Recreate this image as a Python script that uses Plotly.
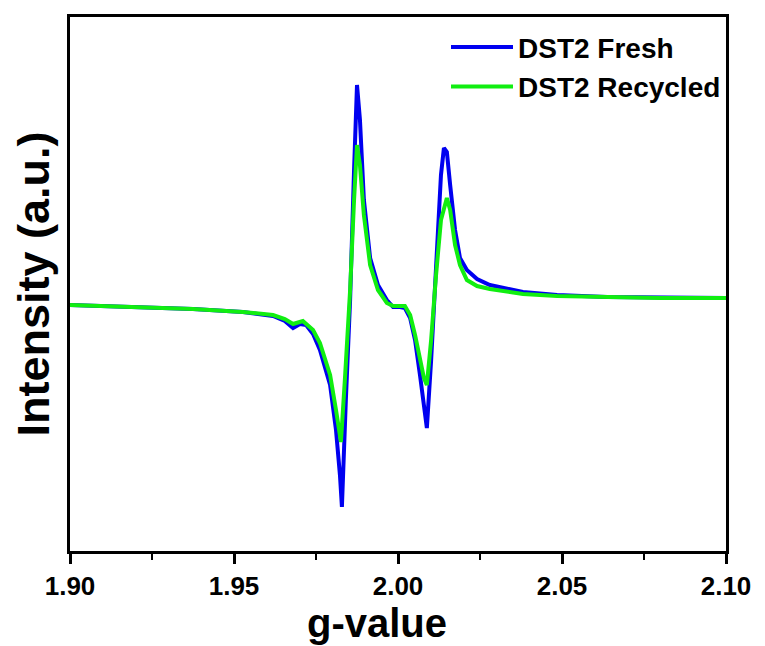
import plotly.graph_objects as go

# g-values and intensities (a.u.)
g_fresh = [1.9000, 1.9174, 1.9375, 1.9527, 1.9619, 1.9655, 1.9680, 1.9701, 1.9720, 1.9741,
           1.9762, 1.9793, 1.9811, 1.9823, 1.9829, 1.9841, 1.9854, 1.9866, 1.9875, 1.9884,
           1.9896, 1.9915, 1.9939, 1.9966, 1.9985, 2.0006, 2.0021, 2.0037, 2.0052, 2.0067,
           2.0079, 2.0088, 2.0101, 2.0116, 2.0131, 2.0140, 2.0149, 2.0159, 2.0174, 2.0189,
           2.0210, 2.0241, 2.0280, 2.0381, 2.0485, 2.0637, 2.0799, 2.1000]
i_fresh = [0, -2, -4, -7, -11, -16, -23, -19, -20, -29,
           -45, -80, -125, -170, -202, -95, 5, 135, 220, 185,
           105, 47, 20, 5, -2, -2, -3, -13, -35, -70,
           -105, -123, -55, 45, 130, 157, 153, 120, 75, 47,
           35, 26, 20, 13, 10, 8, 8, 7]

g_recycled = [1.9000, 1.9174, 1.9375, 1.9527, 1.9619, 1.9655, 1.9680, 1.9710, 1.9741, 1.9762,
              1.9793, 1.9811, 1.9826, 1.9838, 1.9854, 1.9866, 1.9875, 1.9884, 1.9896, 1.9915,
              1.9939, 1.9966, 1.9985, 2.0021, 2.0037, 2.0052, 2.0067, 2.0079, 2.0088, 2.0101,
              2.0116, 2.0131, 2.0149, 2.0159, 2.0174, 2.0189, 2.0210, 2.0241, 2.0280, 2.0381,
              2.0485, 2.0637, 2.0799, 2.1000]
i_recycled = [0, -2, -4, -7, -10, -14, -19, -16, -25, -38,
              -70, -105, -137, -75, 15, 105, 160, 140, 90, 40,
              15, 2, -1, -1, -10, -30, -55, -73, -80, -35,
              30, 85, 107, 95, 60, 40, 25, 19, 16, 11,
              9, 8, 7, 7]

x_ticks = [1.90, 1.95, 2.00, 2.05, 2.10]
x_tick_labels = ["1.90", "1.95", "2.00", "2.05", "2.10"]
x_title = "g-value"
y_title = "Intensity (a.u.)"

font_family = "Liberation Sans, Arial, sans-serif"

fig = go.Figure()
fig.add_trace(go.Scatter(x=g_fresh, y=i_fresh, mode="lines", name="DST2 Fresh",
                         line=dict(color="#0000F0", width=4)))
fig.add_trace(go.Scatter(x=g_recycled, y=i_recycled, mode="lines", name="DST2 Recycled",
                         line=dict(color="#11EE11", width=4)))

# the page body has an 8px default margin, so the figure is sized to fit inside the window
fig.update_layout(
    width=757, height=638,
    margin=dict(l=62, r=39, t=9, b=95, autoexpand=False),
    paper_bgcolor="white", plot_bgcolor="white",
    showlegend=True,
    legend=dict(x=1, xanchor="right", y=0.99, yanchor="top", bgcolor="rgba(0,0,0,0)",
                font=dict(family=font_family, size=28, color="black", weight="bold"),
                itemwidth=62, tracegroupgap=0),
    xaxis=dict(range=[1.90, 2.10], tickvals=x_ticks, ticktext=x_tick_labels, automargin=False,
               ticks="outside", ticklen=10, tickwidth=3, tickcolor="black",
               minor=dict(dtick=0.025, tick0=1.90, ticks="outside", ticklen=6, tickwidth=2, tickcolor="black"),
               showline=True, linewidth=3, linecolor="black", mirror=True, showgrid=False, zeroline=False,
               tickfont=dict(family=font_family, size=26, color="black", weight="bold")),
    yaxis=dict(range=[-246, 288], showticklabels=False, ticks="", automargin=False,
               showline=True, linewidth=3, linecolor="black", mirror=True, showgrid=False, zeroline=False,
               title=dict(text=y_title, standoff=4,
                          font=dict(family=font_family, size=45, color="black", weight="bold"))),
    annotations=[dict(text=x_title, xref="paper", yref="paper", x=0.468, y=-0.135,
                      xanchor="center", yanchor="middle", showarrow=False,
                      font=dict(family=font_family, size=40, color="black", weight="bold"))],
)

fig.write_html("out.html")
